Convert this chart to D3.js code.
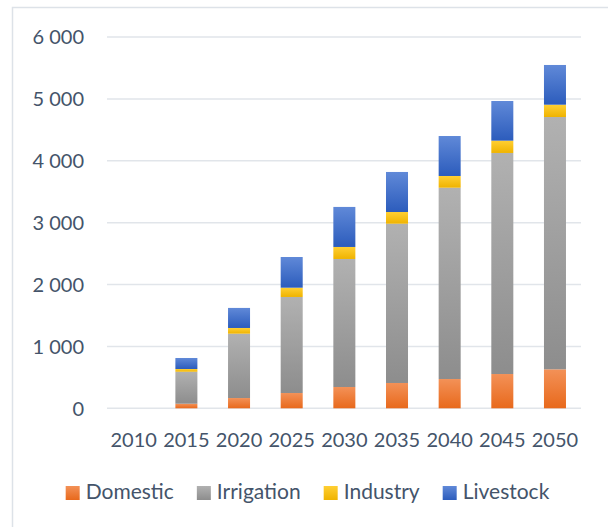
<!DOCTYPE html>
<html>
<head>
<meta charset="UTF-8">
<title>Water demand</title>
<script src="https://cdn.jsdelivr.net/npm/d3@7"></script>
<style>
  body { margin: 0; background: #fff; }
  text { font-family: Lato, "Open Sans", sans-serif; fill: #44546a; }
</style>
</head>
<body>
<script>
var years = ["2010", "2015", "2020", "2025", "2030", "2035", "2040", "2045", "2050"];
var seriesNames = ["Domestic", "Irrigation", "Industry", "Livestock"];
var domestic   = [0, 74, 166, 247, 344, 409, 473, 554, 630];
var irrigation = [0, 517, 1040, 1552, 2069, 2574, 3092, 3572, 4077];
var industry   = [0, 44, 92, 150, 194, 189, 189, 199, 199];
var livestock  = [0, 178, 324, 496, 647, 647, 646, 641, 642];
var yTicks = [0, 1000, 2000, 3000, 4000, 5000, 6000];

var width = 608, height = 527;
// gradient colours per series: top, bottom
var shades = {
    Domestic:   ["#f39157", "#e8691c"],
    Irrigation: ["#b1b1b1", "#8d8d8d"],
    Industry:   ["#ffcf33", "#efb300"],
    Livestock:  ["#6089d8", "#2c5cbc"]
};

var rows = years.map(function(y, i) {
    return { year: y, Domestic: domestic[i], Irrigation: irrigation[i],
             Industry: industry[i], Livestock: livestock[i] };
});

var svg = d3.select("body").append("svg")
    .attr("width", width)
    .attr("height", height);

// chart frame
svg.append("rect")
    .attr("x", 12.5).attr("y", 7.5)
    .attr("width", 620).attr("height", 540)
    .style("fill", "none")
    .style("stroke", "#dde2e8")
    .style("stroke-width", 1.5);

var defs = svg.append("defs");
seriesNames.forEach(function(s) {
    var g = defs.append("linearGradient")
        .attr("id", "grad-" + s)
        .attr("x1", 0).attr("y1", 0).attr("x2", 0).attr("y2", 1);
    g.append("stop").attr("offset", "0%").attr("stop-color", shades[s][0]);
    g.append("stop").attr("offset", "100%").attr("stop-color", shades[s][1]);
});

var x = d3.scaleBand()
    .domain(years)
    .range([107.4, 581.3])
    .paddingInner(0.582)
    .paddingOuter(0.291);

var y = d3.scaleLinear()
    .domain([0, 6000])
    .range([408.3, 37]);

// gridlines
svg.append("g").selectAll("line")
    .data(yTicks)
    .enter().append("line")
    .attr("x1", 107).attr("x2", 581)
    .attr("y1", function(d) { return y(d); })
    .attr("y2", function(d) { return y(d); })
    .style("stroke", "#e1e5ea")
    .style("stroke-width", 1.5);

// y labels
svg.append("g").selectAll("text")
    .data(yTicks)
    .enter().append("text")
    .attr("x", 84)
    .attr("y", function(d) { return y(d); })
    .attr("dy", "0.36em")
    .attr("text-anchor", "end")
    .style("font-size", "20px")
    .text(function(d) { return d3.format(",")(d).replace(",", " "); });

// stacked bars
var stack = d3.stack().keys(seriesNames)(rows);
svg.append("g").selectAll("g")
    .data(stack)
    .enter().append("g")
    .attr("fill", function(d) { return "url(#grad-" + d.key + ")"; })
    .selectAll("rect")
    .data(function(d) { return d; })
    .enter().append("rect")
    .attr("x", function(d) { return x(d.data.year); })
    .attr("width", x.bandwidth())
    .attr("y", function(d) { return y(d[1]); })
    .attr("height", function(d) { return y(d[0]) - y(d[1]); });

// x labels
svg.append("g").selectAll("text")
    .data(years)
    .enter().append("text")
    .attr("x", function(d) { return x(d) + x.bandwidth() / 2; })
    .attr("y", 447)
    .attr("text-anchor", "middle")
    .style("font-size", "20px")
    .text(function(d) { return d; });

// legend
var legend = svg.append("g");
var cursor = 0;
seriesNames.forEach(function(s) {
    var item = legend.append("g").attr("transform", "translate(" + cursor + ",0)");
    item.append("rect")
        .attr("x", 0).attr("y", -13)
        .attr("width", 14).attr("height", 14)
        .attr("fill", "url(#grad-" + s + ")");
    var t = item.append("text")
        .attr("x", 20).attr("y", 0)
        .style("font-size", "21px")
        .text(s);
    cursor += 20 + t.node().getComputedTextLength() + 23;
});
var legendWidth = cursor - 23;
legend.attr("transform", "translate(" + (307.5 - legendWidth / 2) + ",499)");
</script>
</body>
</html>
